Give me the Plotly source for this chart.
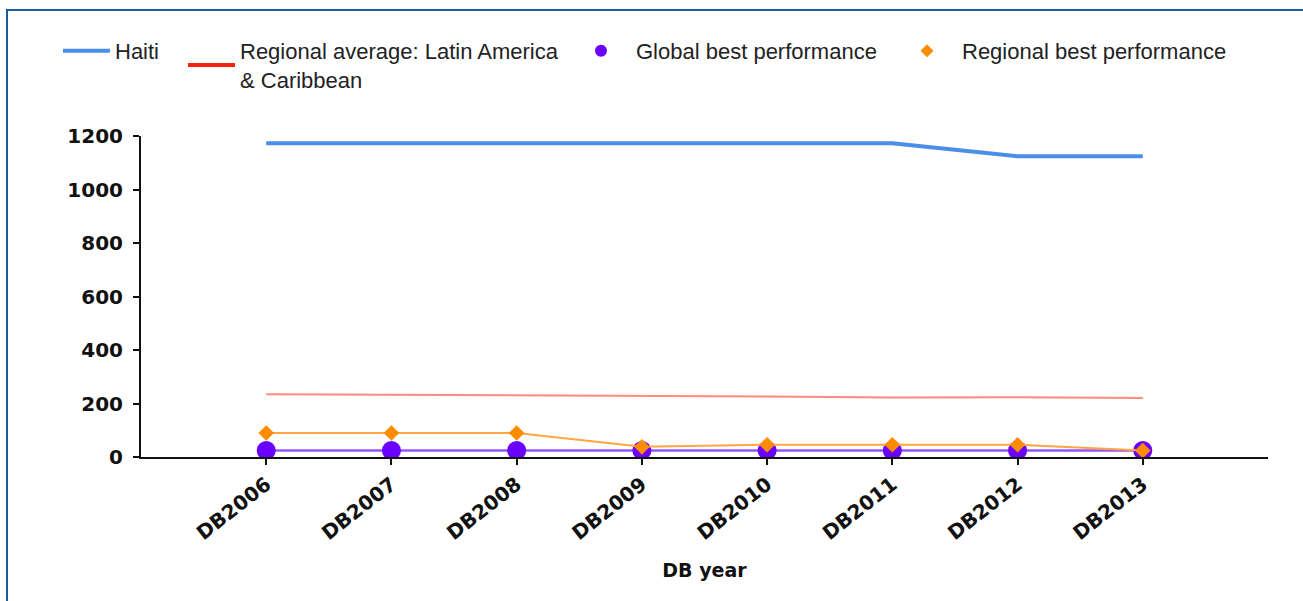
import plotly.graph_objects as go

years = ["DB2006", "DB2007", "DB2008", "DB2009", "DB2010", "DB2011", "DB2012", "DB2013"]
haiti = [1173, 1173, 1173, 1173, 1173, 1173, 1124, 1124]
regional_avg = [235, 233, 232, 229, 226, 222, 223, 221]
global_best = [24, 24, 24, 24, 24, 24, 24, 24]
regional_best = [90, 90, 90, 38, 46, 46, 46, 24]
y_ticks = [0, 200, 400, 600, 800, 1000, 1200]

W, H = 1303, 601
ML, MR, MT, MB = 141, 35, 136, 144
PW, PH = W - ML - MR, H - MT - MB

BLUE = "#4a8ee8"
RED_LINE = "#ff8a80"
RED_LEG = "#ff2010"
PURPLE = "#6a00ff"
ORANGE = "#ff8c00"

fig = go.Figure()

# data traces
fig.add_trace(go.Scatter(x=years, y=regional_avg, mode="lines",
                         line=dict(color=RED_LINE, width=2), showlegend=False))
fig.add_trace(go.Scatter(x=years, y=global_best, mode="lines+markers",
                         line=dict(color="#9455ff", width=2.5),
                         marker=dict(color=PURPLE, size=19, symbol="circle"),
                         showlegend=False))
fig.add_trace(go.Scatter(x=years, y=regional_best, mode="lines+markers",
                         line=dict(color="#ffa640", width=2),
                         marker=dict(color=ORANGE, size=12, symbol="diamond"),
                         showlegend=False))
fig.add_trace(go.Scatter(x=years, y=haiti, mode="lines",
                         line=dict(color=BLUE, width=4), showlegend=False))

# legend entries
fig.add_trace(go.Scatter(x=[None], y=[None], mode="lines", name="Haiti",
                         line=dict(color=BLUE, width=4), legend="legend"))
fig.add_trace(go.Scatter(x=[None], y=[None], mode="lines",
                         name="Regional average: Latin America<br>& Caribbean",
                         line=dict(color=RED_LEG, width=4), legend="legend2"))
fig.add_trace(go.Scatter(x=[None], y=[None], mode="markers",
                         name="Global best performance",
                         marker=dict(color=PURPLE, size=12, symbol="circle"), legend="legend3"))
fig.add_trace(go.Scatter(x=[None], y=[None], mode="markers",
                         name="Regional best performance",
                         marker=dict(color=ORANGE, size=10, symbol="diamond"), legend="legend4"))

leg_font = dict(family="Liberation Sans, Arial", size=22, color="#222222")


def leg(xpx, ypx, iw):
    return dict(x=xpx / W, y=1 - ypx / H, xref="container", yref="container",
                xanchor="left", yanchor="top", orientation="h", font=leg_font,
                itemwidth=iw, bgcolor="rgba(0,0,0,0)", borderwidth=0,
                tracegroupgap=0, itemclick=False, itemdoubleclick=False)


tick_font = dict(family="DejaVu Sans", size=20, color="#111111", weight="bold")

fig.update_layout(
    width=W, height=H,
    margin=dict(l=ML, r=MR, t=MT, b=MB),
    paper_bgcolor="white", plot_bgcolor="white",
    legend=leg(58, 30, 47),
    legend2=leg(183, 30, 47),
    legend3=leg(566, 30, 60),
    legend4=leg(892, 30, 60),
    xaxis=dict(
        type="category", range=[-1, len(years)], showgrid=False, zeroline=False,
        showline=True, linecolor="#111111", linewidth=2,
        ticks="outside", ticklen=6, tickwidth=2, tickcolor="#111111",
        tickangle=-38, tickfont=tick_font,
        title=dict(text="DB year", font=dict(family="DejaVu Sans", size=19,
                                             color="#111111", weight="bold"), standoff=20),
    ),
    yaxis=dict(
        range=[0, 1200], tickvals=y_ticks, showgrid=False, zeroline=False,
        showline=True, linecolor="#111111", linewidth=2,
        ticks="outside", ticklen=6, tickwidth=2, tickcolor="#111111",
        tickfont=tick_font, ticklabelstandoff=6,
    ),
    shapes=[dict(
        type="rect", xref="paper", yref="paper",
        x0=(7 - ML) / PW, x1=(W + 20 - ML) / PW,
        y0=(H - MB - (H + 20)) / PH, y1=(H - MB - 10) / PH,
        line=dict(color="#1d5aa0", width=2), fillcolor="rgba(0,0,0,0)", layer="below",
    )],
)

fig.write_html("out.html", config={"displayModeBar": False},
               post_script="document.body.style.margin='0';")
